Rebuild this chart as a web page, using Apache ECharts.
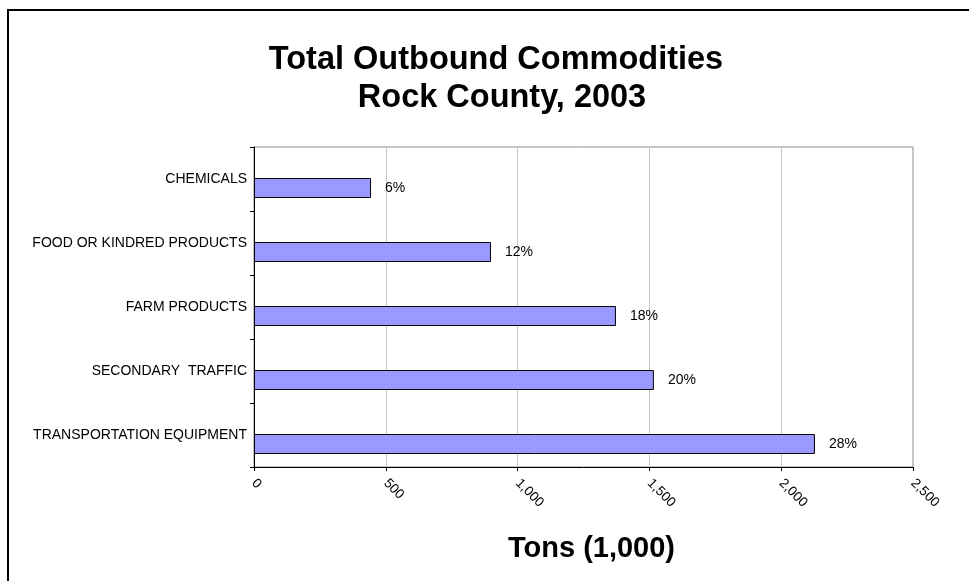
<!DOCTYPE html>
<html>
<head>
<meta charset="utf-8">
<script src="https://cdn.jsdelivr.net/npm/echarts@6/dist/echarts.min.js"></script>
<style>
html,body{margin:0;padding:0;background:#fff;}
#chart{width:969px;height:581px;}
</style>
</head>
<body>
<div id="chart"></div>
<script>
const categories = ['CHEMICALS', 'FOOD OR KINDRED PRODUCTS', 'FARM PRODUCTS', 'SECONDARY  TRAFFIC', 'TRANSPORTATION EQUIPMENT'];
const tons = [444, 899, 1373, 1517, 2128];
const shares = ['6%', '12%', '18%', '20%', '28%'];
const xTicks = [0, 500, 1000, 1500, 2000, 2500];

const FONT = 'Arial, "Liberation Sans", Helvetica, sans-serif';
const chart = echarts.init(document.getElementById('chart'));
chart.setOption({
  animation: false,
  backgroundColor: '#fff',
  textStyle: { fontFamily: FONT },
  title: [{
    text: 'Total Outbound Commodities',
    left: 491,
    top: 39,
    textAlign: 'center',
    textStyle: { fontFamily: FONT, fontSize: 32.5, fontWeight: 'bold', color: '#000' }
  }, {
    text: 'Rock County, 2003',
    left: 497,
    top: 77,
    textAlign: 'center',
    textStyle: { fontFamily: FONT, fontSize: 32.5, fontWeight: 'bold', color: '#000' }
  }],
  graphic: [{
    type: 'rect',
    shape: { x: 8, y: 10, width: 1000, height: 640 },
    style: { fill: 'none', stroke: '#000', lineWidth: 2 },
    silent: true
  }],
  grid: {
    left: 254, right: 56, top: 147, bottom: 114,
    containLabel: false,
    outerBoundsMode: 'none',
    show: true, borderColor: '#8a8a8a', borderWidth: 1
  },
  xAxis: {
    type: 'value',
    min: xTicks[0],
    max: xTicks[xTicks.length - 1],
    interval: xTicks[1] - xTicks[0],
    name: 'Tons (1,000)',
    nameLocation: 'middle',
    nameGap: 67,
    nameTextStyle: { fontFamily: FONT, fontSize: 29, fontWeight: 'bold', color: '#000', padding: [0, 0, 0, 16] },
    axisLine: { show: true, lineStyle: { color: '#000', width: 1 } },
    axisTick: { show: true, length: 4, lineStyle: { color: '#000' } },
    splitLine: { show: true, lineStyle: { color: '#c8c8c8', width: 1 } },
    axisLabel: {
      rotate: -45, fontSize: 13.5, color: '#000', margin: 14,
      formatter: v => v.toLocaleString('en-US')
    }
  },
  yAxis: {
    type: 'category',
    inverse: true,
    data: categories,
    axisLine: { show: true, lineStyle: { color: '#000', width: 1 } },
    axisTick: { show: true, length: 4, lineStyle: { color: '#000' } },
    splitLine: { show: false },
    axisLabel: { fontSize: 14, color: '#000', margin: 7 }
  },
  series: [
    {
      name: 'spacer', type: 'bar', data: [], barWidth: 20, barGap: '-10%', silent: true,
      itemStyle: { color: 'transparent' }
    },
    {
      name: 'Tons', type: 'bar', data: tons, barWidth: 20, barGap: '-10%',
      itemStyle: { color: '#9999ff', borderColor: '#000', borderWidth: 1 },
      label: {
        show: true, position: 'right', distance: 14, fontSize: 14, color: '#000',
        formatter: p => shares[p.dataIndex]
      }
    }
  ]
});
</script>
</body>
</html>
